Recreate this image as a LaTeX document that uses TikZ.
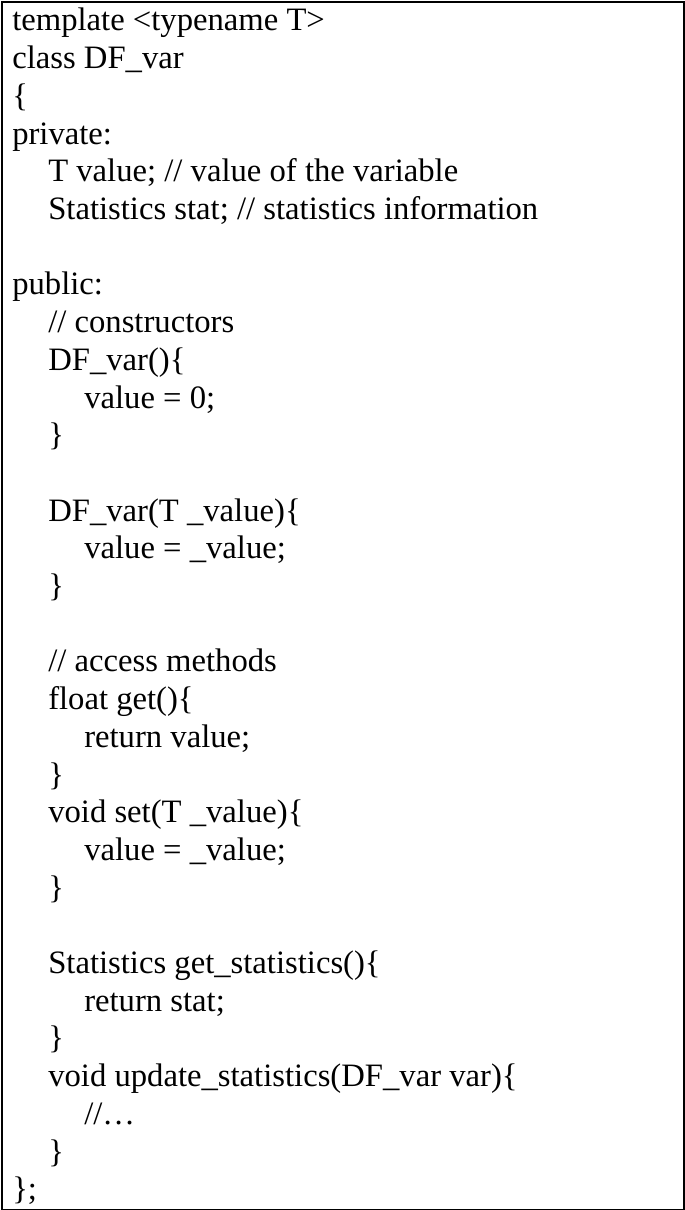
\documentclass[tikz,border=0pt]{standalone}
\usepackage{fontspec}
\setmainfont{Liberation Serif}
\newcommand\cl[3]{\node[code] (l#1) at ({(12+36*#2)*0.75pt},{-(31+37.7*(#1-1))*0.75pt}) {#3};}
\begin{document}
\begin{tikzpicture}[code/.style={anchor=base west,inner sep=0pt,font=\fontsize{24.5}{28}\selectfont}]
\useasboundingbox (0,0) rectangle (513.75pt,-907.5pt);
\node[draw,line width=1.2pt,minimum width=511.5pt,minimum height=905.5pt,anchor=north west,inner sep=0pt] (box) at (1.1pt,-1.1pt) {};
\cl{1}{0}{template <typename T>}
\cl{2}{0}{class DF\_var}
\cl{3}{0}{\{}
\cl{4}{0}{private:}
\cl{5}{1}{T value; // value of the variable}
\cl{6}{1}{Statistics stat; // statistics information}
\cl{8}{0}{public:}
\cl{9}{1}{// constructors}
\cl{10}{1}{DF\_var()\{}
\cl{11}{2}{value = 0;}
\cl{12}{1}{\}}
\cl{14}{1}{DF\_var(T \_value)\{}
\cl{15}{2}{value = \_value;}
\cl{16}{1}{\}}
\cl{18}{1}{// access methods}
\cl{19}{1}{float get()\{}
\cl{20}{2}{return value;}
\cl{21}{1}{\}}
\cl{22}{1}{void set(T \_value)\{}
\cl{23}{2}{value = \_value;}
\cl{24}{1}{\}}
\cl{26}{1}{Statistics get\_statistics()\{}
\cl{27}{2}{return stat;}
\cl{28}{1}{\}}
\cl{29}{1}{void update\_statistics(DF\_var var)\{}
\cl{30}{2}{//…}
\cl{31}{1}{\}}
\cl{32}{0}{\};}
\end{tikzpicture}
\end{document}
